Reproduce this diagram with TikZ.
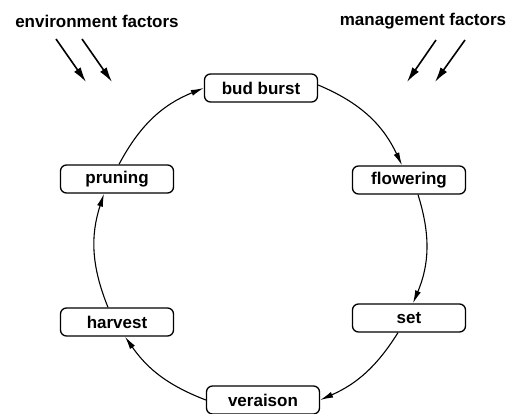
\documentclass[tikz,border=0pt]{standalone}
\usepackage{fontspec}
\setmainfont{Liberation Sans}
\usepackage{tikz}
\usetikzlibrary{arrows.meta}

\begin{document}
\begin{tikzpicture}[x=1pt,y=-1pt,
        stage/.style={draw, line width=1.3pt, rounded corners=6pt,
            minimum width=113pt, minimum height=28pt, inner sep=0pt,
            font=\fontsize{17}{20}\selectfont\bfseries},
        cyclearrow/.style={line width=1.1pt, -{Latex[length=13pt,width=6pt]}},
        factorarrow/.style={line width=1.6pt, -{Latex[length=15pt,width=8pt]}}]
        \useasboundingbox (0,0) rectangle (517,414);

        \node[font=\fontsize{17}{20}\selectfont\bfseries] (envlabel) at ( 97,21) {environment factors};
        \node[font=\fontsize{17}{20}\selectfont\bfseries] (mgtlabel) at (423,21) {management factors};

        \node[stage] (bud)  at (261, 88) {bud burst};
        \node[stage] (flow) at (409,180) {flowering};
        \node[stage] (set)  at (409,318) {set};
        \node[stage] (ver)  at (263,400) {veraison};
        \node[stage] (harv) at (117,322) {harvest};
        \node[stage] (prun) at (117,179) {pruning};

        \draw[cyclearrow] ([yshift=3pt]bud.east)    to[bend left=21] ([xshift=-7pt]flow.north);
        \draw[cyclearrow] ([xshift=9pt]flow.south)  to[bend left=20] ([xshift=4pt]set.north);
        \draw[cyclearrow] ([xshift=-11pt]set.south) to[bend left=17] (ver.east);
        \draw[cyclearrow] (ver.west)                to[bend left=17] ([xshift=8pt]harv.south);
        \draw[cyclearrow] ([xshift=-9pt]harv.north) to[bend left=20] ([xshift=-13pt]prun.south);
        \draw[cyclearrow] ([xshift=2pt]prun.north)  to[bend left=20] (bud.west);

        \coordinate (e1a) at ( 56,39); \coordinate (e1b) at ( 86,82);
        \coordinate (e2a) at ( 82,39); \coordinate (e2b) at (112,82);
        \coordinate (m1a) at (436,40); \coordinate (m1b) at (407,82);
        \coordinate (m2a) at (465,40); \coordinate (m2b) at (435,82);

        \draw[factorarrow] (e1a) -- (e1b);
        \draw[factorarrow] (e2a) -- (e2b);
        \draw[factorarrow] (m1a) -- (m1b);
        \draw[factorarrow] (m2a) -- (m2b);
    \end{tikzpicture}
\end{document}
